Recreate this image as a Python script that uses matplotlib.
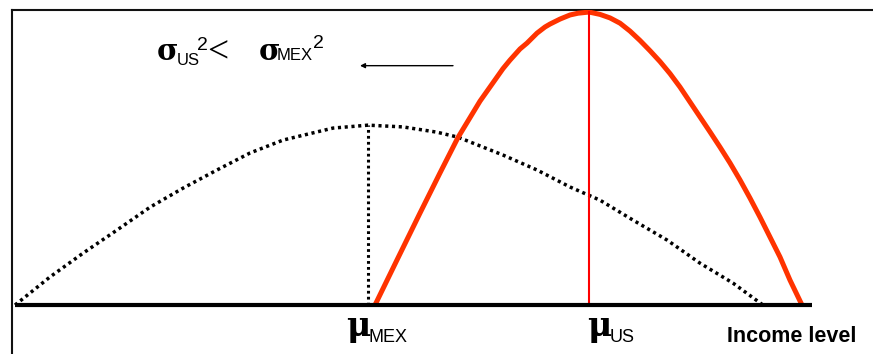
import matplotlib
matplotlib.use("Agg")
import matplotlib.pyplot as plt

# ── Data (income in arbitrary units, density with US peak = 1) ──
us_income = [36.0, 38.2, 40.5, 42.5, 44.3, 46.5, 48.8, 49.5, 50.5, 51.2, 52.2, 53.0, 53.5,
             54.5, 55.5, 56.3, 57.4, 58.5, 59.5, 60.5, 61.5, 62.5, 63.5, 64.5, 65.5,
             66.5, 67.5, 68.5, 69.5, 70.5, 71.5, 72.5, 73.5, 74.5, 75.5, 76.5, 77.5, 78.7]
us_density = [0.0, 0.154, 0.314, 0.451, 0.572, 0.696, 0.807, 0.836, 0.874, 0.894, 0.928, 0.949, 0.959,
              0.976, 0.990, 0.996, 1.0, 0.992, 0.980, 0.962, 0.935, 0.903, 0.868, 0.831, 0.790,
              0.744, 0.693, 0.642, 0.591, 0.539, 0.485, 0.427, 0.365, 0.300, 0.232, 0.164, 0.085, 0.0]

mex_income = [0.0, 3.5, 6.8, 10.2, 13.5, 16.8, 20.2, 23.5, 26.8, 28.5, 31.8, 35.3,
              38.8, 42.2, 44.3, 48.8, 52.2, 55.5, 58.5, 61.8, 65.2, 68.5, 71.8, 74.8]
mex_density = [0.0, 0.096, 0.177, 0.256, 0.334, 0.399, 0.461, 0.519, 0.563, 0.577, 0.604, 0.614,
               0.608, 0.590, 0.573, 0.512, 0.461, 0.403, 0.358, 0.290, 0.222, 0.143, 0.075, 0.0]

mu_mex, peak_mex = 35.3, 0.614
mu_us, peak_us = 57.4, 1.0
income_max = 79.7

W, H = 873, 354
fig = plt.figure(figsize=(W / 100, H / 100), dpi=100)
ax = fig.add_axes([12 / W, 0, (W - 12) / W, (H - 10) / H])
ax.set_xlim(-0.3, 85.8)
ax.set_ylim(-0.167, 1.007)
ax.set_xticks([])
ax.set_yticks([])
for side in ("right", "bottom"):
    ax.spines[side].set_visible(False)
for side in ("left", "top"):
    ax.spines[side].set_linewidth(1.5)
    ax.spines[side].set_color("#111111")

# income axis
ax.plot([0, income_max], [0, 0], color="black", lw=3, solid_capstyle="butt", zorder=4)

# Mexico distribution (dotted)
dots = (0, (0.9, 1.05))
ax.plot(mex_income, mex_density, color="black", lw=2.5, linestyle=dots)
ax.plot([mu_mex, mu_mex], [0, peak_mex], color="black", lw=2.2, linestyle=dots)

# US distribution (red)
ax.plot(us_income, us_density, color="#ff3300", lw=3.6, solid_capstyle="butt",
        solid_joinstyle="round", zorder=3)
ax.plot([mu_us, mu_us], [0, peak_us], color="#ff0000", lw=1.5, zorder=3)

# arrow pointing left
ax.annotate("", xy=(34.5, 0.817), xytext=(43.8, 0.817),
            arrowprops=dict(arrowstyle="-|>", lw=1, color="black", mutation_scale=7,
                            shrinkA=0, shrinkB=0))


def px(x, y):
    return x / W, 1 - y / H


serif = "DejaVu Serif"
sans = "Liberation Sans"

# sigma_US^2 < sigma_MEX^2
fig.text(*px(157, 60), "σ", family=serif, fontsize=21, fontweight="bold", va="baseline")
fig.text(*px(177, 65), "US", family=sans, fontsize=12, va="baseline")
fig.text(*px(197, 50), "2", family=sans, fontsize=14, va="baseline")
fig.text(*px(207, 62), "<", family="Liberation Serif", fontsize=27, va="baseline")
fig.text(*px(259, 60), "σ", family=serif, fontsize=21, fontweight="bold", va="baseline")
fig.text(*px(277, 60), "MEX", family=sans, fontsize=12, va="baseline")
fig.text(*px(313, 48), "2", family=sans, fontsize=14, va="baseline")

# means on the income axis
fig.text(*px(346, 336), "μ", family=serif, fontsize=24, fontweight="bold", va="baseline")
fig.text(*px(368, 342), "MEX", family=sans, fontsize=13, va="baseline")
fig.text(*px(587, 336), "μ", family=serif, fontsize=24, fontweight="bold", va="baseline")
fig.text(*px(610, 342), "US", family=sans, fontsize=13, va="baseline")
fig.text(*px(727, 342), "Income level", family=sans, fontsize=15.5, fontweight="bold",
         va="baseline")

fig.savefig("out.png", dpi=100)
plt.close(fig)
